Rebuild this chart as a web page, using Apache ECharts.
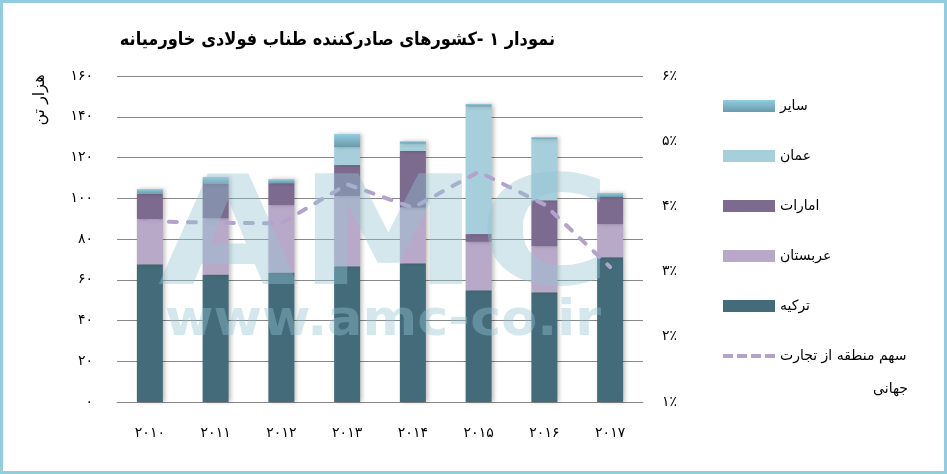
<!DOCTYPE html>
<html>
<head>
<meta charset="utf-8">
<script src="https://cdn.jsdelivr.net/npm/echarts@6/dist/echarts.min.js"></script>
<style>
  html, body { margin: 0; padding: 0; background: #fff; }
  #main { width: 947px; height: 474px; }
</style>
</head>
<body>
<div id="main"></div>
<script>
'use strict';

// داده‌های نمودار
const years = ['2010', '2011', '2012', '2013', '2014', '2015', '2016', '2017'];
const turkey = [67.6, 62.6, 63.6, 66.6, 68.1, 54.9, 53.9, 71.1];
const saudi = [22.2, 27.5, 33.1, 34.5, 27.2, 23.7, 22.6, 16.2];
const emirates = [12.4, 16.9, 10.7, 15.2, 27.9, 3.8, 22.5, 13.3];
const oman = [0, 0, 0, 8.8, 3.6, 62.6, 30.0, 0];
const others = [2.3, 3.4, 2.0, 6.4, 1.2, 1.3, 1.0, 2.0];
const share = [3.77, 3.75, 3.74, 4.34, 3.98, 4.53, 4.03, 3.07];

const lineName = 'سهم منطقه از تجارت';
const font = 'DejaVu Sans';

function fa(v) {
  return String(v).replace(/[0-9]/g, d => '۰۱۲۳۴۵۶۷۸۹'[d]);
}

function bar(name, data, color) {
  return {
    name: name,
    type: 'bar',
    stack: 'total',
    barWidth: 26,
    data: data,
    itemStyle: {
      color: color,
      shadowBlur: 4,
      shadowColor: 'rgba(0,0,0,0.25)',
      shadowOffsetX: 2
    }
  };
}

let chart = echarts.init(document.getElementById('main'));
chart.setOption({
  animation: false,
  grid: { left: 117, right: 304, top: 76, bottom: 72 },
  legend: {
    orient: 'vertical',
    left: 718,
    top: 94,
    itemWidth: 52,
    itemHeight: 12,
    itemGap: 36,
    icon: 'rect',
    data: ['سایر', 'عمان', 'امارات', 'عربستان', 'ترکیه', {
      name: lineName,
      icon: 'path://M0,0h10v4h-10z M14,0h10v4h-10z M28,0h10v4h-10z M42,0h10v4h-10z'
    }],
    textStyle: { fontFamily: font, fontSize: 14, color: '#000', lineHeight: 14 }
  },
  xAxis: {
    type: 'category',
    data: years,
    axisLine: { lineStyle: { color: '#888' } },
    axisTick: { length: 7, lineStyle: { color: '#888' } },
    axisLabel: { formatter: fa, margin: 24, fontFamily: font, fontSize: 14, color: '#000' }
  },
  yAxis: [{
    type: 'value',
    min: 0,
    max: 160,
    interval: 20,
    axisLine: { show: false },
    axisTick: { show: false },
    splitLine: { lineStyle: { color: '#888' } },
    axisLabel: { formatter: fa, margin: 24, fontFamily: font, fontSize: 14, color: '#000' }
  }, {
    type: 'value',
    min: 1,
    max: 6,
    interval: 1,
    axisLine: { show: false },
    axisTick: { show: false },
    splitLine: { show: false },
    axisLabel: { formatter: v => fa(v) + '٪', margin: 19, fontFamily: font, fontSize: 14, color: '#000' }
  }],
  series: [
    bar('ترکیه', turkey, '#446b7a'),
    bar('عربستان', saudi, '#b9a9c9'),
    bar('امارات', emirates, '#7c6b8f'),
    bar('عمان', oman, '#a6cfdb'),
    bar('سایر', others, new echarts.graphic.LinearGradient(0, 0, 0, 1, [
      { offset: 0, color: '#92cde0' },
      { offset: 1, color: '#6a9aab' }
    ])),
    {
      name: lineName,
      type: 'line',
      yAxisIndex: 1,
      data: share,
      symbol: 'none',
      z: 5,
      lineStyle: { color: '#b3a2c9', width: 4, type: [8, 11], cap: 'round' },
      itemStyle: { color: '#b3a2c9' }
    }
  ],
  graphic: [
    {
      type: 'rect',
      shape: { x: 1.5, y: 1.5, width: 944, height: 471 },
      style: { fill: 'none', stroke: '#93cddd', lineWidth: 3 },
      silent: true
    },
    {
      type: 'text',
      x: 555,
      y: 40,
      scaleX: 0.9,
      style: {
        text: 'نمودار ۱ -کشورهای صادرکننده طناب فولادی خاورمیانه',
        font: 'bold 18px "DejaVu Sans"',
        fill: '#000',
        textAlign: 'right',
        textVerticalAlign: 'middle'
      }
    },
    {
      type: 'text',
      x: 40,
      y: 100,
      rotation: Math.PI / 2,
      style: {
        text: 'هزار تن',
        font: '16px "DejaVu Sans"',
        fill: '#000',
        textAlign: 'center',
        textVerticalAlign: 'middle'
      }
    },
    {
      type: 'text',
      x: 908,
      y: 389,
      style: {
        text: 'جهانی',
        font: '14px "DejaVu Sans"',
        fill: '#000',
        textAlign: 'right',
        textVerticalAlign: 'middle'
      }
    },
    // واترمارک
    {
      type: 'text',
      x: 158,
      y: 245,
      scaleX: 1.2,
      z: 100,
      silent: true,
      style: {
        text: 'AMC',
        font: 'bold 151px "DejaVu Sans"',
        fill: 'rgba(147,196,210,0.4)',
        textAlign: 'left',
        textVerticalAlign: 'middle'
      }
    },
    {
      type: 'text',
      x: 165,
      y: 322,
      scaleX: 1.05,
      z: 100,
      silent: true,
      style: {
        text: 'www.amc-co.ir',
        font: 'bold 50px "DejaVu Sans"',
        fill: 'rgba(147,196,210,0.4)',
        textAlign: 'left',
        textVerticalAlign: 'middle'
      }
    }
  ]
});
</script>
</body>
</html>
